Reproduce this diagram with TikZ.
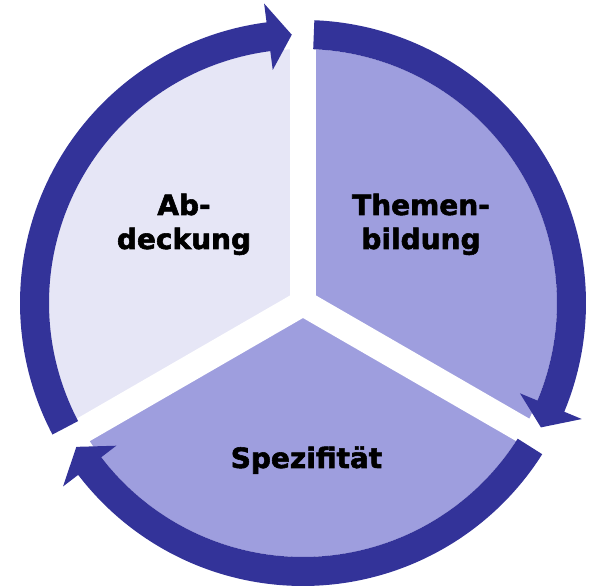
\documentclass[tikz,border=0pt]{standalone}
\usepackage{fontspec}
\setmainfont{DejaVu Sans}[BoldFeatures={FakeBold=2}]
\definecolor{ringblue}{RGB}{51,51,153}
\definecolor{lightlav}{RGB}{230,230,246}
\definecolor{midlav}{RGB}{158,158,222}
\begin{document}
\begin{tikzpicture}[x=1pt,y=1pt,
  gapline/.style={draw=white,line width=26pt},
  ringarrow/.style={fill=ringblue},
  lbl/.style={font=\fontsize{28}{34}\selectfont\bfseries, align=center, anchor=base, text=black, inner sep=0pt}]
\useasboundingbox (0,0) rectangle (592,588);
\coordinate (C) at (303,285);
\begin{scope}[shift={(C)}]
\fill[lightlav] (0,0) -- (90:254) arc[start angle=90,end angle=210,radius=254] -- cycle;
\fill[midlav] (0,0) -- (210:254) arc[start angle=210,end angle=450,radius=254] -- cycle;
\foreach \g in {90,-30,210} \draw[gapline] (0,0) -- (\g:300);
\foreach \a/\t in {207.7/92.4, 87.7/-27.6, -32.3/-147.6} {
  \pgfmathsetmacro\hb{\t+5}
  \fill[ringarrow] (\a:283) arc[start angle=\a,end angle=\hb,radius=283] -- (\hb:302) -- (\t:268.5) -- (\hb:235) -- (\hb:254) arc[start angle=\hb,end angle=\a,radius=254] -- cycle;
}
\end{scope}
\node[lbl] (ab) at (184,339) {Ab-\\deckung};
\node[lbl] (themen) at (421,339) {Themen-\\bildung};
\node[lbl] (spez) at (306.5,120) {Spezifität};
\end{tikzpicture}
\end{document}
